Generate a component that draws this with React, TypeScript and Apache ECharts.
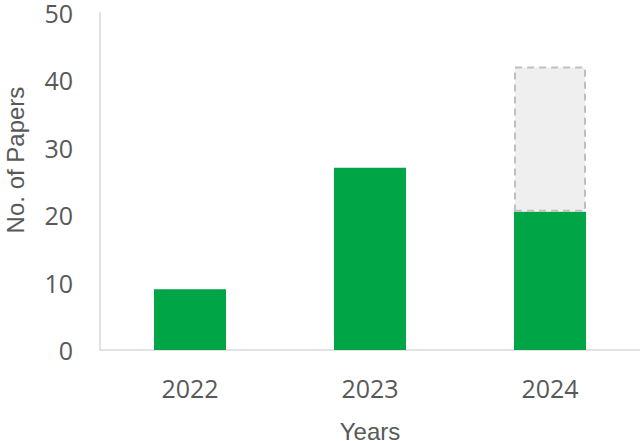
import React, { useEffect, useRef } from "react";
import * as echarts from "echarts";

const years = ["2022", "2023", "2024"];
const published = [9, 27, 20.5];
const projected = [null, null, 21.5];
const yTicks = { min: 0, max: 50, interval: 10 };

export default function App() {
  const ref = useRef<HTMLDivElement>(null);
  useEffect(() => {
    document.body.style.margin = "0";
    const chart = echarts.init(ref.current!, undefined, { renderer: "svg" });
    chart.setOption({
      animation: false,
      backgroundColor: "#ffffff",
      grid: { left: 100, right: 0, top: 12, bottom: 91 },
      xAxis: {
        type: "category",
        data: years,
        axisLine: { show: true, lineStyle: { color: "#d9d9d9", width: 1.5 } },
        axisTick: { show: false },
        axisLabel: {
          color: "#595959",
          fontSize: 25,
          fontFamily: "Open Sans",
          margin: 25,
        },
      },
      yAxis: {
        type: "value",
        min: yTicks.min,
        max: yTicks.max,
        interval: yTicks.interval,
        axisLine: { show: true, lineStyle: { color: "#d9d9d9", width: 1.5 } },
        axisTick: { show: false },
        splitLine: { show: false },
        axisLabel: {
          color: "#595959",
          fontSize: 25,
          fontFamily: "Open Sans",
          margin: 27,
        },
      },
      graphic: [
        {
          type: "text",
          x: 15,
          y: 160,
          rotation: Math.PI / 2,
          style: {
            text: "No. of Papers",
            fill: "#595959",
            font: "24px 'Liberation Sans', Arial, sans-serif",
            align: "center",
            verticalAlign: "middle",
          },
        },
        {
          type: "text",
          x: 370,
          y: 431,
          style: {
            text: "Years",
            fill: "#595959",
            font: "24px 'Liberation Sans', Arial, sans-serif",
            align: "center",
            verticalAlign: "middle",
          },
        },
      ],
      series: [
        {
          type: "bar",
          stack: "total",
          data: published,
          barWidth: "40%",
          itemStyle: { color: "#00a546" },
        },
        {
          type: "bar",
          stack: "total",
          data: projected,
          barWidth: "40%",
          itemStyle: {
            color: "#efefef",
            borderColor: "#bfbfbf",
            borderWidth: 2,
            borderType: [7, 5],
          },
        },
      ],
    });
    return () => chart.dispose();
  }, []);
  return <div ref={ref} style={{ width: 640, height: 441 }} />;
}
